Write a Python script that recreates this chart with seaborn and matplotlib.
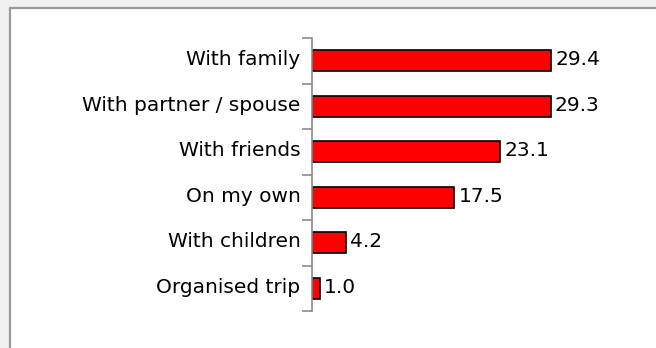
import matplotlib
matplotlib.use("Agg")
import matplotlib.pyplot as plt
from matplotlib.patches import Rectangle
from matplotlib.ticker import FixedLocator
from matplotlib.transforms import ScaledTranslation
import seaborn as sns
import pandas as pd

categories = ["With family", "With partner / spouse", "With friends",
              "On my own", "With children", "Organised trip"]
shares = [29.4, 29.3, 23.1, 17.5, 4.2, 1.0]

df = pd.DataFrame({"category": categories, "share": shares})

sns.set_style("white")
plt.rcParams["font.family"] = ["DejaVu Sans"]

W, H = 656, 348
fig = plt.figure(figsize=(W / 100, H / 100), dpi=100, facecolor="#f0f0f0")

# white panel with a grey frame on the left and top
panel = Rectangle((9.5 / W, -0.05), 1.1, (H - 8) / H + 0.05,
                  transform=fig.transFigure, facecolor="white",
                  edgecolor="#999999", linewidth=1.6, zorder=-10)
fig.patches.append(panel)

ax = fig.add_axes([311.5 / W, (H - 311) / H, 285.6 / W, 273 / H])
ax.patch.set_visible(False)

sns.barplot(data=df, x="share", y="category", orient="h", ax=ax,
            color="#ff0000", saturation=1, width=0.46,
            edgecolor="black", linewidth=1.2)

ax.set_xlim(0, 35)
ax.set_ylim(len(categories) - 0.5, -0.5)
ax.set_xlabel("")
ax.set_ylabel("")
ax.xaxis.set_visible(False)

for side in ("top", "right", "bottom"):
    ax.spines[side].set_visible(False)
ax.spines["left"].set_color("#8c8c8c")
ax.spines["left"].set_linewidth(1.2)

# tick marks sit between the categories, labels stay centred
ax.yaxis.set_minor_locator(FixedLocator([i - 0.5 for i in range(len(categories) + 1)]))
ax.tick_params(axis="y", which="minor", length=7, width=1.2, color="#8c8c8c", left=True)
ax.tick_params(axis="y", which="major", length=0, pad=8, labelsize=14.5, labelcolor="black")

lift = ScaledTranslation(0, 3 / 100, fig.dpi_scale_trans)
for lab in ax.get_yticklabels():
    lab.set_transform(lab.get_transform() + lift)

for i, v in enumerate(shares):
    ax.text(v + 0.5, i, f"{v:.1f}", va="center_baseline", ha="left",
            fontsize=14.5, color="black", transform=ax.transData + lift)

fig.savefig("out.png", dpi=100, facecolor=fig.get_facecolor())
